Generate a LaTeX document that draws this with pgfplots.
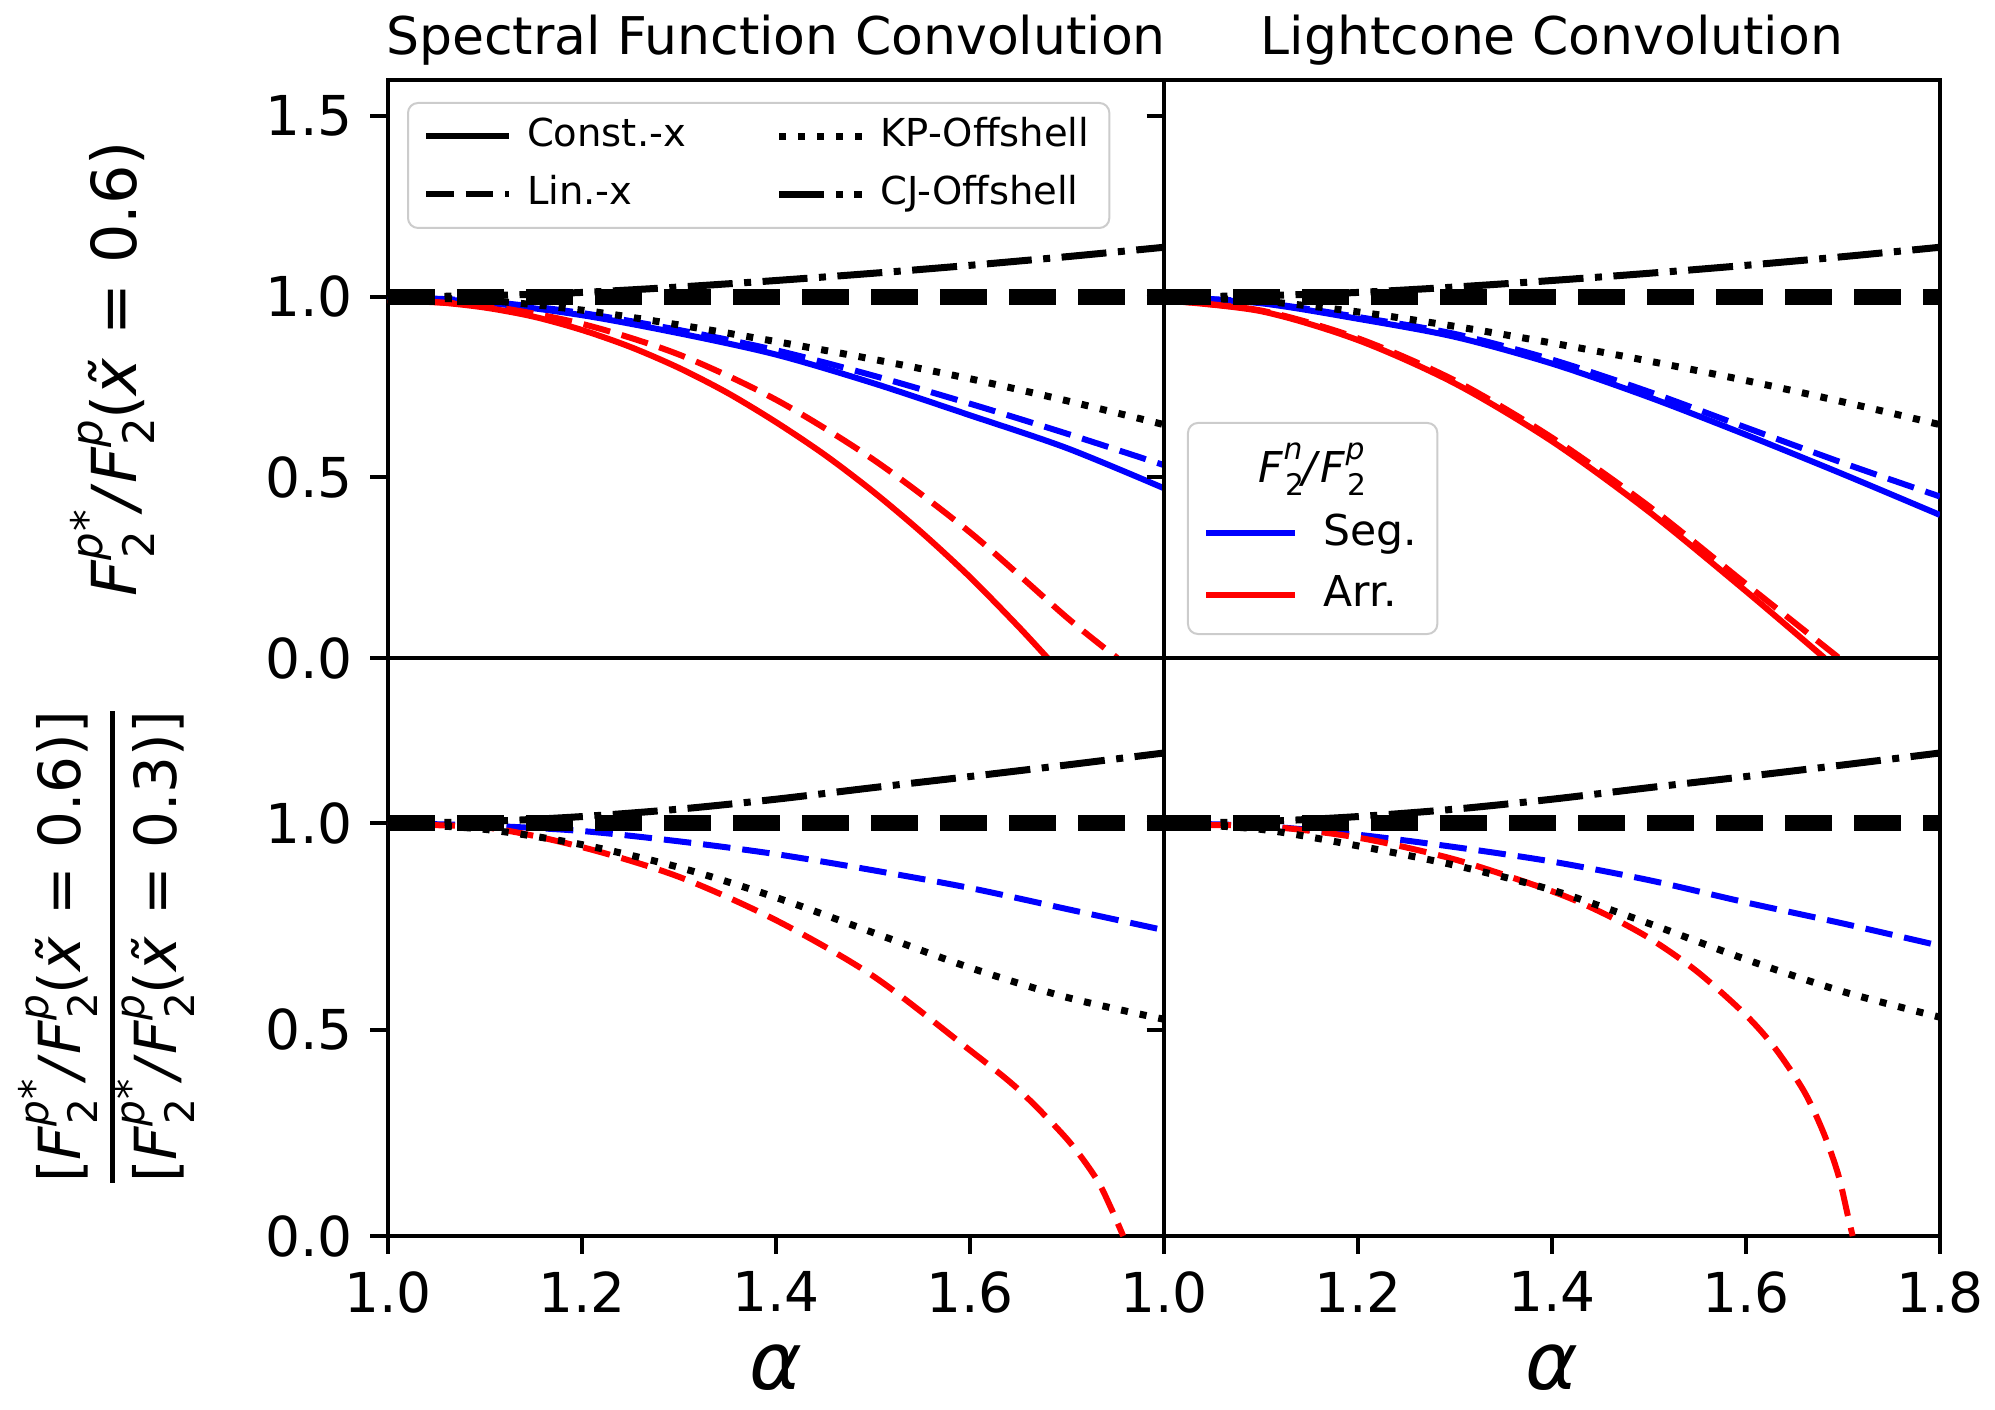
\documentclass[border=0pt]{standalone}
\usepackage{graphicx}
\usepackage{fontspec}
\setmainfont{DejaVu Sans}
\usepackage{pgfplots}
\pgfplotsset{compat=1.18}

% F with stacked subscript 2 and superscript #1 (mathtext-like placement)
\newcommand{\Fss}[1]{\textit{F}\rlap{\kern0.4pt\raisebox{-0.3em}{\scalebox{0.7}{2}}}\raisebox{0.55em}{\scalebox{0.7}{#1}}}
\newcommand{\ratio}[1]{\Fss{\textit{p}\kern0.3pt*}\textit{/}\Fss{\textit{p}}(\textit{\~{x}} = #1)}

\pgfplotsset{
  panel/.style={
    scale only axis, width=155.2pt, height=115.6pt,
    xmin=1, xmax=1.8,
    tick align=outside, tick pos=left,
    major tick length=3.5pt,
    tick style={black, line width=0.8pt},
    axis line style={black, line width=0.8pt},
    ticklabel style={font=\fontsize{11}{13}\selectfont},
    title style={at={(axis description cs:0.5,1)}, anchor=center, yshift=2.0pt, font=\fontsize{10.4}{12}\selectfont},
    xlabel style={at={(axis description cs:0.5,0)}, anchor=center, inner sep=0pt, yshift=-26.4pt, font=\fontsize{16}{17}\selectfont\itshape},
    ylabel style={anchor=center},
    legend image code/.code={\draw[#1] (0pt,0pt) -- (16.6pt,0pt); \path[draw=none] (19.2pt,0pt);},
  },
  lconst/.style={solid, line width=1.2pt},
  llin/.style={line width=1.2pt, dash pattern=on 5.5pt off 2.4pt},
  lkp/.style={black, line width=1.4pt, dash pattern=on 1.4pt off 2.4pt},
  lcj/.style={black, line width=1.4pt, dash pattern=on 9pt off 2.3pt on 1.4pt off 2.3pt},
  lref/.style={black, line width=3.2pt, dash pattern=on 9.4pt off 4.4pt},
}

\begin{document}
\begin{tikzpicture}
\useasboundingbox (-77.6pt,16pt) rectangle (321.4pt,-265.8pt);

% ---------------- top left ----------------
\begin{axis}[panel, at={(0pt,0pt)}, anchor=north west,
  ymin=0, ymax=1.6, ytick={0,0.5,1,1.5}, yticklabels={0.0,0.5,1.0,1.5},
  xtick=\empty,
  title={Spectral Function Convolution},
  ylabel={\ratio{0.6}},
  ylabel style={at={(axis description cs:-0.355,0.5)}, font=\fontsize{12.4}{15}\selectfont},
  legend columns=2,
  legend cell align=left,
  legend style={at={(axis description cs:0.0245,0.962)}, anchor=north west,
    draw=black!20, rounded corners=2pt, fill=white,
    font=\fontsize{7.7}{9}\selectfont,
    nodes={inner sep=1pt, text height=5.8pt, text depth=1.6pt},
    row sep=2.2pt, inner xsep=3pt, inner ysep=2pt,
    /tikz/every even column/.append style={column sep=17pt}},
]
\addlegendimage{black, lconst}\addlegendentry{Const.-x}
\addlegendimage{lkp}\addlegendentry{KP-Offshell}
\addlegendimage{black, llin}\addlegendentry{Lin.-x}
\addlegendimage{lcj}\addlegendentry{CJ-Offshell}
\addplot[blue, lconst, smooth, forget plot] coordinates {(1.0,1.0) (1.1,0.984) (1.2,0.949) (1.3,0.899) (1.4,0.840) (1.5,0.761) (1.6,0.672) (1.7,0.581) (1.8,0.47)};
\addplot[blue, llin, smooth, forget plot] coordinates {(1.0,1.0) (1.1,0.987) (1.2,0.955) (1.3,0.908) (1.4,0.852) (1.5,0.782) (1.6,0.704) (1.7,0.621) (1.8,0.534)};
\addplot[red, lconst, smooth, forget plot] coordinates {(1.0,0.99) (1.05,0.985) (1.1,0.970) (1.15,0.945) (1.2,0.908) (1.25,0.861) (1.3,0.803) (1.35,0.734) (1.4,0.653) (1.45,0.563) (1.5,0.461) (1.55,0.348) (1.6,0.224) (1.65,0.087) (1.68,0.0)};
\addplot[red, llin, smooth, forget plot] coordinates {(1.0,0.99) (1.1,0.975) (1.2,0.925) (1.3,0.84) (1.4,0.715) (1.5,0.55) (1.6,0.348) (1.7,0.112) (1.752,0.0)};
\addplot[lkp, smooth, forget plot] coordinates {(1.0,1.0) (1.1,0.99) (1.2,0.963) (1.3,0.922) (1.4,0.876) (1.5,0.827) (1.6,0.773) (1.7,0.712) (1.8,0.646)};
\addplot[lcj, smooth, forget plot] coordinates {(1.0,1.0) (1.1,1.003) (1.2,1.012) (1.3,1.027) (1.4,1.045) (1.5,1.065) (1.6,1.087) (1.7,1.111) (1.8,1.137)};
\addplot[lref, forget plot] coordinates {(1.0,1.0) (1.8,1.0)};
\end{axis}

% ---------------- top right ----------------
\begin{axis}[panel, at={(155.2pt,0pt)}, anchor=north west,
  ymin=0, ymax=1.6, ytick={0,0.5,1,1.5}, yticklabels={},
  xtick=\empty,
  title={Lightcone Convolution},
  legend image code/.code={\draw[#1] (0pt,0pt) -- (17.8pt,0pt); \path[draw=none] (22.5pt,0pt);},
  legend cell align=left,
  legend style={at={(axis description cs:0.0296,0.0398)}, anchor=south west,
    draw=black!20, rounded corners=2pt, fill=white,
    font=\fontsize{8.5}{10}\selectfont,
    nodes={inner sep=1pt},
    row sep=2.6pt, inner xsep=3pt, inner ysep=3pt},
]
\addlegendimage{empty legend}\addlegendentry{\hspace*{-13pt}\Fss{\textit{n}}\textit{/}\Fss{\textit{p}}\rule[-4.6pt]{0pt}{4.6pt}}
\addlegendimage{blue, line width=1.3pt}\addlegendentry{Seg.}
\addlegendimage{red, line width=1.3pt}\addlegendentry{Arr.}
\addplot[blue, lconst, smooth, forget plot] coordinates {(1.0,1.0) (1.1,0.982) (1.2,0.939) (1.3,0.889) (1.4,0.815) (1.5,0.722) (1.6,0.618) (1.7,0.509) (1.8,0.396)};
\addplot[blue, llin, smooth, forget plot] coordinates {(1.0,1.0) (1.1,0.984) (1.2,0.944) (1.3,0.897) (1.4,0.826) (1.5,0.737) (1.6,0.638) (1.7,0.54) (1.8,0.447)};
\addplot[red, lconst, smooth, forget plot] coordinates {(1.0,0.99) (1.1,0.96) (1.2,0.88) (1.3,0.76) (1.4,0.60) (1.5,0.405) (1.6,0.185) (1.681,0.0)};
\addplot[red, llin, smooth, forget plot] coordinates {(1.0,0.99) (1.1,0.962) (1.2,0.885) (1.3,0.768) (1.4,0.61) (1.5,0.42) (1.6,0.205) (1.696,0.0)};
\addplot[lkp, smooth, forget plot] coordinates {(1.0,1.0) (1.1,0.988) (1.2,0.958) (1.3,0.918) (1.4,0.872) (1.5,0.822) (1.6,0.768) (1.7,0.709) (1.8,0.646)};
\addplot[lcj, smooth, forget plot] coordinates {(1.0,1.0) (1.1,1.003) (1.2,1.012) (1.3,1.027) (1.4,1.045) (1.5,1.065) (1.6,1.087) (1.7,1.111) (1.8,1.137)};
\addplot[lref, forget plot] coordinates {(1.0,1.0) (1.8,1.0)};
\end{axis}

% ---------------- bottom left ----------------
\begin{axis}[panel, at={(0pt,-115.6pt)}, anchor=north west,
  ymin=0, ymax=1.4, ytick={0,0.5,1}, yticklabels={0.0,0.5,1.0},
  xtick={1,1.2,1.4,1.6,1.8}, xticklabels={1.0,1.2,1.4,1.6,{}},
  xlabel={α},
  ylabel={{\renewcommand{\arraystretch}{0}\setlength{\arrayrulewidth}{1pt}\begin{tabular}{@{}c@{}}[\ratio{0.6}]\rule[-3.5pt]{0pt}{12.6pt}\\[5.9pt]\hline\rule[-3.5pt]{0pt}{14.8pt}[\ratio{0.3}]\end{tabular}}},
  ylabel style={at={(axis description cs:-0.363,0.5)}, font=\fontsize{11.6}{14}\selectfont},
]
\addplot[blue, llin, smooth] coordinates {(1.0,1.0) (1.1,0.994) (1.2,0.981) (1.3,0.956) (1.4,0.925) (1.5,0.886) (1.6,0.843) (1.7,0.792) (1.8,0.741)};
\addplot[red, llin, smooth] coordinates {(1.0,0.995) (1.1,0.99) (1.2,0.942) (1.3,0.87) (1.4,0.765) (1.5,0.63) (1.6,0.45) (1.65,0.355) (1.7,0.235) (1.73,0.14) (1.745,0.07) (1.758,0.0)};
\addplot[lkp, smooth] coordinates {(1.0,1.0) (1.1,0.985) (1.2,0.948) (1.3,0.893) (1.4,0.82) (1.5,0.735) (1.6,0.65) (1.7,0.578) (1.8,0.525)};
\addplot[lcj, smooth] coordinates {(1.0,1.0) (1.1,1.004) (1.2,1.016) (1.3,1.034) (1.4,1.058) (1.5,1.086) (1.6,1.113) (1.7,1.141) (1.8,1.17)};
\addplot[lref] coordinates {(1.0,1.0) (1.8,1.0)};
\end{axis}

% ---------------- bottom right ----------------
\begin{axis}[panel, at={(155.2pt,-115.6pt)}, anchor=north west,
  ymin=0, ymax=1.4, ytick={0,0.5,1}, yticklabels={},
  xtick={1,1.2,1.4,1.6,1.8}, xticklabels={1.0,1.2,1.4,1.6,1.8},
  xlabel={α},
]
\addplot[blue, llin, smooth] coordinates {(1.0,1.0) (1.1,0.993) (1.2,0.972) (1.3,0.942) (1.4,0.907) (1.5,0.862) (1.6,0.808) (1.7,0.757) (1.8,0.703)};
\addplot[red, llin, smooth] coordinates {(1.0,0.995) (1.1,0.993) (1.2,0.965) (1.3,0.912) (1.4,0.835) (1.45,0.785) (1.5,0.722) (1.55,0.64) (1.6,0.535) (1.63,0.455) (1.66,0.35) (1.68,0.25) (1.695,0.15) (1.705,0.05) (1.71,0.0)};
\addplot[lkp, smooth] coordinates {(1.0,1.0) (1.1,0.985) (1.2,0.945) (1.3,0.898) (1.4,0.838) (1.5,0.757) (1.6,0.67) (1.7,0.592) (1.8,0.53)};
\addplot[lcj, smooth] coordinates {(1.0,1.0) (1.1,1.004) (1.2,1.016) (1.3,1.034) (1.4,1.058) (1.5,1.086) (1.6,1.113) (1.7,1.141) (1.8,1.17)};
\addplot[lref] coordinates {(1.0,1.0) (1.8,1.0)};
\end{axis}
\end{tikzpicture}
\end{document}
